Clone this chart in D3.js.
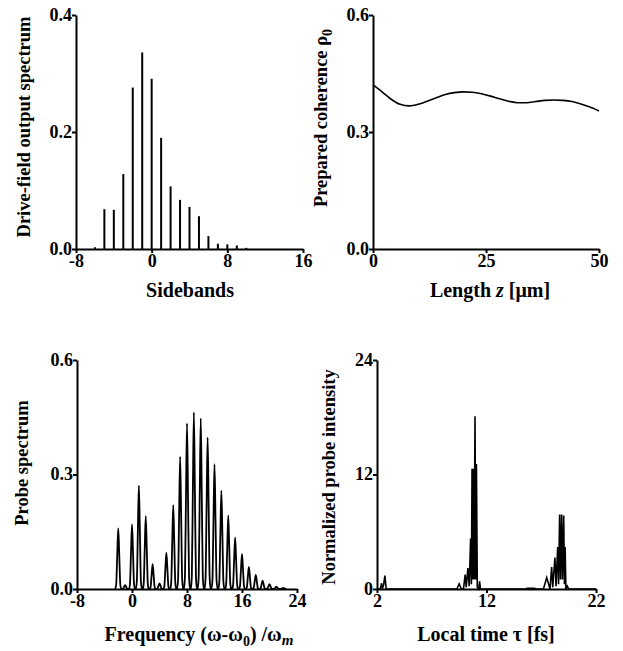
<!DOCTYPE html>
<html>
<head>
<meta charset="utf-8">
<script src="https://cdn.jsdelivr.net/npm/d3@7"></script>
<style>
  body { margin: 0; background: #fff; }
  svg { display: block; }
  text { font-family: "Liberation Serif", "Times New Roman", serif; font-weight: bold; fill: #000; }
</style>
</head>
<body>
<svg width="623" height="651"></svg>
<script>
var pic = d3.select("svg");

// panel (a) sidebands of the drive field
var sidebands = [-6, -5, -4, -3, -2, -1, 0, 1, 2, 3, 4, 5, 6, 7, 8, 9, 10];
var driveSpectrum = [0.003, 0.068, 0.067, 0.128, 0.276, 0.336, 0.291, 0.19, 0.107, 0.084, 0.072, 0.056, 0.022, 0.009, 0.008, 0.006, 0.002];
var sidebandTicks = [-8, 0, 8, 16];
var driveTicks = [0.0, 0.2, 0.4];

// panel (b) prepared coherence vs length
var lengthZ = [0, 2, 4, 6, 8, 10, 12, 14, 16, 18, 20, 22, 24, 26, 28, 30, 32, 34, 36, 38, 40, 42, 44, 46, 48, 50];
var coherence = [0.421, 0.403, 0.384, 0.371, 0.367, 0.371, 0.379, 0.388, 0.396, 0.401, 0.403, 0.402, 0.398, 0.392, 0.385, 0.379, 0.375, 0.375, 0.378, 0.381, 0.382, 0.381, 0.378, 0.372, 0.364, 0.354];
var lengthTicks = [0, 25, 50];
var coherenceTicks = [0.0, 0.3, 0.6];

// panel (c) probe spectrum, one peak per sideband
var probeFreq = [-2, -1, 0, 1, 2, 3, 4, 5, 6, 7, 8, 9, 10, 11, 12, 13, 14, 15, 16, 17, 18, 19, 20, 21, 22];
var probePeak = [0.159, 0.01, 0.169, 0.271, 0.191, 0.065, 0.015, 0.095, 0.22, 0.347, 0.434, 0.463, 0.447, 0.397, 0.327, 0.258, 0.192, 0.135, 0.092, 0.058, 0.037, 0.022, 0.013, 0.006, 0.003];
var freqTicks = [-8, 0, 8, 16, 24];
var probeTicks = [0.0, 0.3, 0.6];

// panel (d) probe intensity in local time
var localTime = [2.0, 2.3, 2.42, 2.5, 2.6, 2.72, 2.84, 3.0, 9.3, 9.5, 9.7, 9.9, 10.05, 10.15, 10.3, 10.42, 10.55, 10.62, 10.68, 10.74, 10.8, 10.87, 10.95, 11.02, 11.08, 11.16, 11.3, 11.37, 11.45, 15.6, 15.7, 16.4, 16.5, 17.2, 17.5, 17.8, 17.95, 18.05, 18.25, 18.35, 18.5, 18.58, 18.68, 18.76, 18.86, 18.94, 19.05, 19.12, 19.18, 19.25, 19.38, 19.5, 22.0];
var intensity = [0, 0, 0.6, 0.05, 0.4, 1.4, 0, 0, 0, 0.55, 0, 0, 1.5, 0.2, 2.2, 0.3, 5.3, 0.5, 12.6, 1.0, 12.6, 1.0, 18.1, 1.0, 13.1, 0.2, 0, 0.8, 0, 0, 0.08, 0.08, 0, 0, 1.2, 0, 2.3, 0.2, 3.3, 0.3, 4.4, 0.5, 7.8, 1.0, 7.8, 1.0, 7.7, 0.5, 4.4, 0, 0.3, 0, 0];
var timeTicks = [2, 12, 22];
var intensityTicks = [0, 12, 24];

// narrow line shape used for every spectral peak (offset, fraction of height)
var peakShape = [[-0.45, 0], [-0.3, 0.07], [-0.15, 0.55], [0, 1], [0.15, 0.55], [0.3, 0.07], [0.45, 0]];

// draw axes for one panel, returns scales
var makePanel = function(box, xDom, yDom, xTicks, yTicks, xFmt, yFmt) {
  var x = d3.scaleLinear().domain(xDom).range([box.left, box.right]);
  var y = d3.scaleLinear().domain(yDom).range([box.bottom, box.top]);
  var g = pic.append('g');
  var xa = g.append('g').attr('transform', 'translate(0,' + box.bottom + ')')
    .call(d3.axisBottom(x).tickValues(xTicks).tickFormat(xFmt).tickSize(4).tickSizeOuter(0).tickPadding(1));
  var ya = g.append('g').attr('transform', 'translate(' + box.left + ',0)')
    .call(d3.axisLeft(y).tickValues(yTicks).tickFormat(yFmt).tickSize(4).tickSizeOuter(0).tickPadding(0));
  [xa, ya].forEach(function(a) {
    a.select('.domain').attr('stroke', '#000').attr('stroke-width', 2);
    a.selectAll('.tick line').attr('stroke', '#000').attr('stroke-width', 2);
    a.selectAll('.tick text').style('font-size', '18px').style('font-family', '"Liberation Serif", serif').style('font-weight', 'bold');
  });
  ya.selectAll('.tick text').attr('dy', '0.3em');
  return {x: x, y: y};
}

// plain hyphen for negatives, like the original figure
var f0 = function(d) { return String(d); };
var f1 = function(d) { return d.toFixed(1); };

// (a)
var a = makePanel({left: 76, right: 303, top: 15, bottom: 249}, [-8, 16], [0, 0.4], sidebandTicks, driveTicks, f0, f1);
pic.append('g').selectAll('line').data(sidebands).join('line')
  .attr('x1', function(d) { return a.x(d); }).attr('x2', function(d) { return a.x(d); })
  .attr('y1', a.y(0)).attr('y2', function(d, i) { return a.y(driveSpectrum[i]); })
  .attr('stroke', '#000').attr('stroke-width', 2);

// (b)
var b = makePanel({left: 373, right: 599, top: 15, bottom: 249}, [0, 50], [0, 0.6], lengthTicks, coherenceTicks, f0, f1);
pic.append('path').datum(lengthZ)
  .attr('d', d3.line().x(function(d) { return b.x(d); }).y(function(d, i) { return b.y(coherence[i]); }).curve(d3.curveMonotoneX))
  .attr('fill', 'none').attr('stroke', '#000').attr('stroke-width', 1.6);

// (c)
var c = makePanel({left: 77, right: 297, top: 360, bottom: 589}, [-8, 24], [0, 0.6], freqTicks, probeTicks, f0, f1);
var probePts = [];
probeFreq.forEach(function(f, i) {
  peakShape.forEach(function(p) { probePts.push([f + p[0], probePeak[i] * p[1]]); });
});
pic.append('path').datum(probePts)
  .attr('d', d3.line().x(function(d) { return c.x(d[0]); }).y(function(d) { return c.y(d[1]); }).curve(d3.curveMonotoneX))
  .attr('fill', 'none').attr('stroke', '#000').attr('stroke-width', 1.8);

// (d)
var dd = makePanel({left: 377, right: 596, top: 360, bottom: 589}, [2, 22], [0, 24], timeTicks, intensityTicks, f0, f0);
pic.append('path').datum(localTime)
  .attr('d', d3.line().x(function(d) { return dd.x(d); }).y(function(d, i) { return dd.y(intensity[i]); }))
  .attr('fill', 'none').attr('stroke', '#000').attr('stroke-width', 1.6);

// axis titles
var title = function(x, y, rot) {
  var t = pic.append('text').attr('text-anchor', 'middle').style('font-size', rot ? '18.5px' : '20px');
  if (rot) t.attr('transform', 'translate(' + x + ',' + y + ') rotate(-90)');
  else t.attr('x', x).attr('y', y);
  return t;
}
title(190, 297).text('Sidebands');
var tb = title(490, 297);
tb.append('tspan').text('Length ');
tb.append('tspan').style('font-style', 'italic').text('z');
tb.append('tspan').text(' [μm]');
var tc = title(199, 641);
tc.append('tspan').text('Frequency (ω-ω');
tc.append('tspan').attr('dy', 5).style('font-size', '14px').text('0');
tc.append('tspan').attr('dy', -5).text(') /ω');
tc.append('tspan').attr('dy', 4).style('font-size', '15px').style('font-style', 'italic').text('m');
title(486, 641).text('Local time  τ [fs]');

title(30, 127, true).text('Drive-field output spectrum');
var tr = title(327, 118, true);
tr.append('tspan').text('Prepared coherence ρ');
tr.append('tspan').attr('dy', 5).style('font-size', '14px').text('0');
title(28, 463, true).text('Probe spectrum');
title(335, 477, true).text('Normalized probe intensity');
</script>
</body>
</html>
